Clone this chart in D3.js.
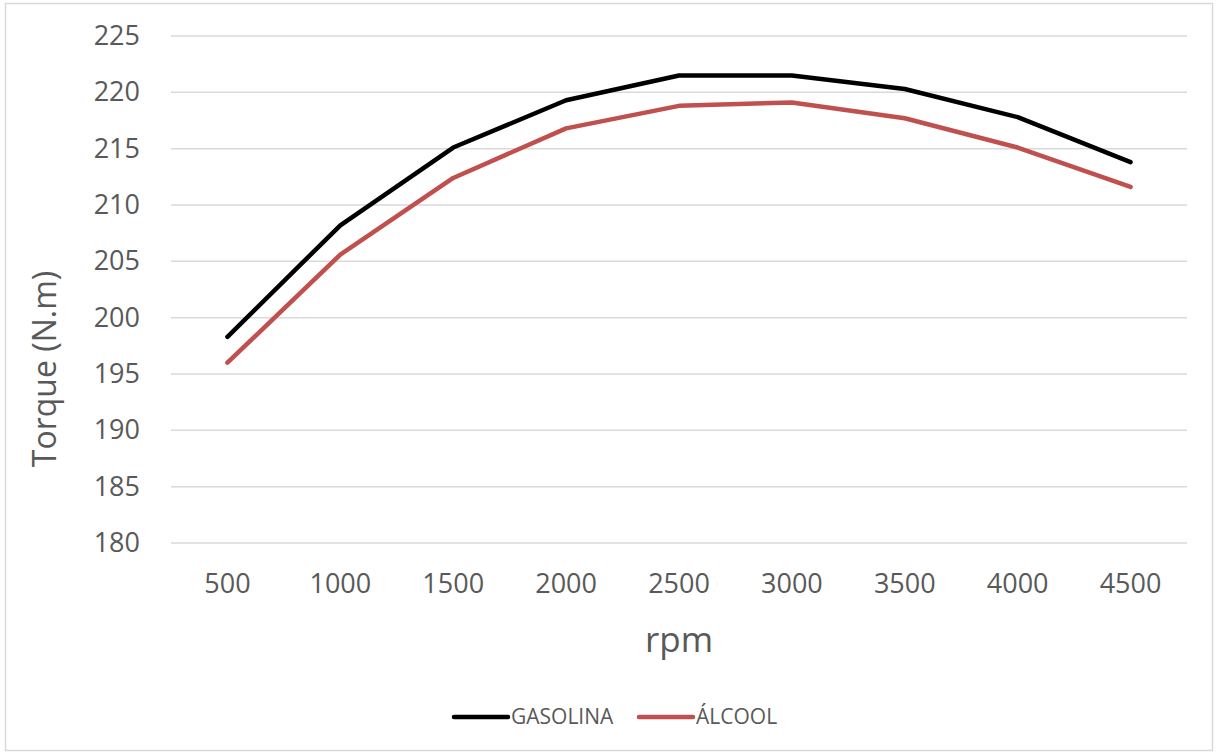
<!DOCTYPE html>
<html>
<head>
<meta charset="utf-8">
<script src="https://cdn.jsdelivr.net/npm/d3@7"></script>
<style>
  body { margin: 0; background: #fff; }
  text { font-family: "Open Sans", "Liberation Sans", sans-serif; fill: #595959; }
</style>
</head>
<body>
<div id="chart"></div>
<script>
// data
const rpm = ["500", "1000", "1500", "2000", "2500", "3000", "3500", "4000", "4500"];
const gasolina = [198.3, 208.2, 215.1, 219.3, 221.5, 221.5, 220.3, 217.8, 213.8];
const alcool = [196.0, 205.6, 212.4, 216.8, 218.8, 219.1, 217.7, 215.1, 211.6];
const yTicks = [180, 185, 190, 195, 200, 205, 210, 215, 220, 225];

const seriesList = [
    { name: "GASOLINA", values: gasolina, color: "#000000" },
    { name: "ÁLCOOL", values: alcool, color: "#C0504D" }
];

const W = 1216, H = 753;
const margin = { top: 36, right: 29, bottom: 210, left: 171 };
const width = W - margin.left - margin.right,
    height = H - margin.top - margin.bottom;

const svg = d3.select("#chart").append("svg")
    .attr("width", W)
    .attr("height", H);

// outer chart border
svg.append("rect")
    .attr("x", 5.5).attr("y", 3.5)
    .attr("width", W - 9).attr("height", H - 6)
    .attr("fill", "#fff")
    .attr("stroke", "#d9d9d9")
    .attr("stroke-width", 1.5);

const g = svg.append("g")
    .attr("transform", "translate(" + margin.left + "," + margin.top + ")");

// scales
const x = d3.scaleBand().domain(rpm).range([0, width]);
const y = d3.scaleLinear().domain([180, 225]).range([height, 0]);

// gridlines
g.selectAll(".grid")
    .data(yTicks)
    .enter().append("line")
    .attr("class", "grid")
    .attr("x1", 0).attr("x2", width)
    .attr("y1", d => y(d)).attr("y2", d => y(d))
    .attr("stroke", "#d9d9d9")
    .attr("stroke-width", 1.5);

// axes (no domain lines / ticks, just labels)
const yAxis = g.append("g")
    .call(d3.axisLeft(y).tickValues(yTicks).tickSize(0).tickPadding(31));
yAxis.select(".domain").remove();
yAxis.selectAll("text")
    .style("font-size", "27px")
    .style("fill", "#595959");

const xAxis = g.append("g")
    .attr("transform", "translate(0," + height + ")")
    .call(d3.axisBottom(x).tickSize(0).tickPadding(31));
xAxis.select(".domain").remove();
xAxis.selectAll("text")
    .style("font-size", "27px")
    .style("fill", "#595959");

// axis titles
svg.append("text")
    .attr("x", margin.left + width / 2)
    .attr("y", 652)
    .attr("text-anchor", "middle")
    .style("font-size", "35px")
    .text("rpm");

svg.append("text")
    .attr("transform", "translate(45,369) rotate(-90)")
    .attr("text-anchor", "middle")
    .attr("dy", "0.35em")
    .style("font-size", "32px")
    .text("Torque (N.m)");

// lines
const line = d3.line()
    .x((d, i) => x(rpm[i]) + x.bandwidth() / 2)
    .y(d => y(d));

g.selectAll(".series")
    .data(seriesList)
    .enter().append("path")
    .attr("class", "series")
    .attr("d", d => line(d.values))
    .attr("fill", "none")
    .attr("stroke", d => d.color)
    .attr("stroke-width", 4.5)
    .attr("stroke-linecap", "round")
    .attr("stroke-linejoin", "round");

// legend
const legendX = [454, 639];
const legend = svg.selectAll(".legend")
    .data(seriesList)
    .enter().append("g")
    .attr("class", "legend")
    .attr("transform", (d, i) => "translate(" + legendX[i] + ",717)");

legend.append("line")
    .attr("x1", 0).attr("x2", 54)
    .attr("stroke", d => d.color)
    .attr("stroke-width", 4.5)
    .attr("stroke-linecap", "round");

legend.append("text")
    .attr("x", 57)
    .attr("dy", "0.35em")
    .style("font-size", "21px")
    .text(d => d.name);
</script>
</body>
</html>
